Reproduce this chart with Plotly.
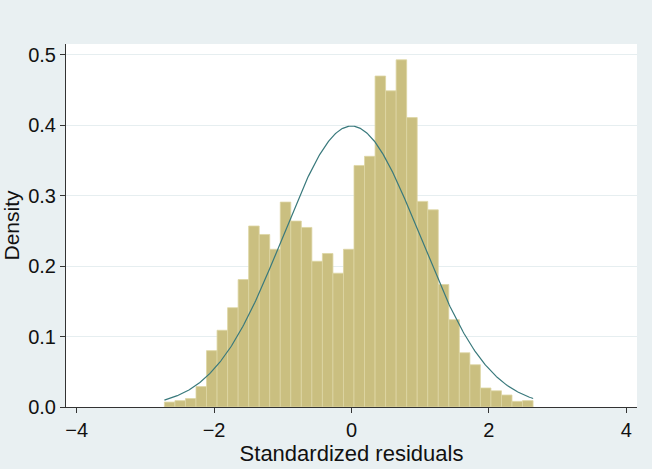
import numpy as np
import plotly.graph_objects as go

# Histogram (density) of standardized residuals, 35 equal bins
bin_start = -2.723
bin_width = 0.1533
density = [0.007, 0.009, 0.012, 0.029, 0.080, 0.109, 0.141, 0.181, 0.257, 0.245,
           0.224, 0.291, 0.264, 0.255, 0.207, 0.218, 0.190, 0.224, 0.343, 0.356,
           0.470, 0.449, 0.493, 0.411, 0.292, 0.280, 0.174, 0.124, 0.077, 0.060,
           0.027, 0.023, 0.017, 0.008, 0.009]

# Normal density overlay (mean 0, sd 1) over the data range
norm_mean = 0.0
norm_sd = 1.0
curve_min = -2.723
curve_max = 2.644

x_ticks = [-4, -2, 0, 2, 4]
x_tick_labels = ["\u22124", "\u22122", "0", "2", "4"]
y_ticks = [0.0, 0.1, 0.2, 0.3, 0.4, 0.5]
y_tick_labels = ["0.0", "0.1", "0.2", "0.3", "0.4", "0.5"]

centers = [bin_start + bin_width * (i + 0.5) for i in range(len(density))]
xs = np.linspace(curve_min, curve_max, 400)
ys = np.exp(-0.5 * ((xs - norm_mean) / norm_sd) ** 2) / (norm_sd * np.sqrt(2 * np.pi))

BG = "#E9F0F2"
fig = go.Figure()
fig.add_trace(go.Bar(
    x=centers, y=density, width=bin_width,
    marker=dict(color="#CABF80", line=dict(color="#DDD6A3", width=0.8)),
    showlegend=False, hoverinfo="skip"))
fig.add_trace(go.Scatter(
    x=xs, y=ys, mode="lines",
    line=dict(color="#39797C", width=1.2),
    showlegend=False, hoverinfo="skip"))

font = "Liberation Sans, Arial, sans-serif"
fig.update_layout(
    width=652, height=469,
    margin=dict(l=66, r=15, t=44, b=62, autoexpand=False),
    paper_bgcolor=BG, plot_bgcolor="white",
    bargap=0,
    hovermode=False,
    font=dict(family=font, size=20, color="#111111"),
    xaxis=dict(
        automargin=False,
        range=[-4.155, 4.155], tickvals=x_ticks, ticktext=x_tick_labels,
        ticks="outside", ticklen=5, tickcolor="#333333", tickwidth=1,
        showline=True, linecolor="#333333", linewidth=1,
        showgrid=False, zeroline=False,
        tickfont=dict(size=20),
        title=dict(text="Standardized residuals", font=dict(size=22), standoff=5),
    ),
    yaxis=dict(
        automargin=False,
        range=[0, 0.5155], tickvals=y_ticks, ticktext=y_tick_labels,
        ticks="outside", ticklen=5, tickcolor="#333333", tickwidth=1,
        showline=True, linecolor="#333333", linewidth=1,
        showgrid=True, gridcolor="#E6EEF0", gridwidth=1,
        zeroline=False,
        tickfont=dict(size=20),
        title=dict(text="Density", font=dict(size=21), standoff=5),
    ),
)

fig.write_html("out.html",
               config={"displayModeBar": False, "staticPlot": True},
               post_script="document.body.style.margin='0';document.body.style.background='" + BG + "';")
